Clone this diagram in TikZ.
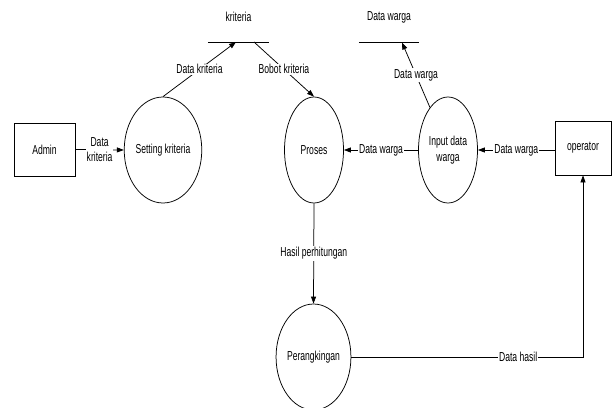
\documentclass[tikz,border=0pt]{standalone}
\usepackage{fontspec}
\setmainfont[FakeStretch=0.66]{Liberation Sans}
\usetikzlibrary{shapes.geometric,arrows.meta}
\begin{document}
\begin{tikzpicture}[x=1pt,y=-1pt,
  every node/.style={font=\fontsize{13}{15.5}\selectfont},
  proc/.style={draw,ellipse,line width=0.75pt,minimum width=59pt,minimum height=106pt,inner sep=0pt},
  ent/.style={draw,rectangle,line width=0.75pt,inner sep=0pt},
  flow/.style={line width=0.75pt,-{Triangle[length=7pt,width=5pt]}},
  lbl/.style={fill=white,inner sep=1pt,align=center}]
\useasboundingbox (0,0) rectangle (613,407);
% entities
\node[ent,minimum width=61pt,minimum height=53pt] (admin) at (44.5,149.5) {Admin};
\node[ent,minimum width=56pt,minimum height=54pt] (oper) at (583,148) {operator};
% processes
\node[proc] (set) at (163,150) {Setting kriteria};
\node[proc] (pro) at (314,150) {Proses};
\node[proc,align=center] (inp) at (448,150) {Input data\\warga};
\node[proc,minimum width=61pt] (rank) at (313.5,357) {Perangkingan};
% data stores
\node[inner sep=0pt,minimum width=61pt,minimum height=0pt] (ks) at (238.5,42) {};
\draw[line width=0.75pt] (ks.west) -- (ks.east);
\node (kslbl) at (238.5,17) {kriteria};
\node[inner sep=0pt,minimum width=60pt,minimum height=0pt] (ws) at (389,42) {};
\draw[line width=0.75pt] (ws.west) -- (ws.east);
\node (wslbl) at (389,17) {Data warga};
\coordinate (ksin) at (236,42);
\coordinate (ksout) at (254,42);
\coordinate (wsin) at (402,42.5);
% flows
\draw[flow] (admin.east) -- node[lbl] {Data\\kriteria} (set.west);
\draw[flow] (set.north) -- node[lbl] {Data kriteria} (ksin);
\draw[flow] (ksout) -- node[lbl] {Bobot kriteria} (pro.north);
\draw[flow] (inp.113) -- node[lbl] {Data warga} (wsin);
\draw[flow] (inp.west) -- node[lbl] {Data warga} (pro.east);
\draw[flow] (oper.west |- inp.east) -- node[lbl] {Data warga} (inp.east);
\draw[flow] (pro.south) -- node[lbl] {Hasil perhitungan} (rank.north);
\draw[flow] (rank.east) -| node[lbl,pos=0.36] {Data hasil} (oper.south);
\end{tikzpicture}
\end{document}
